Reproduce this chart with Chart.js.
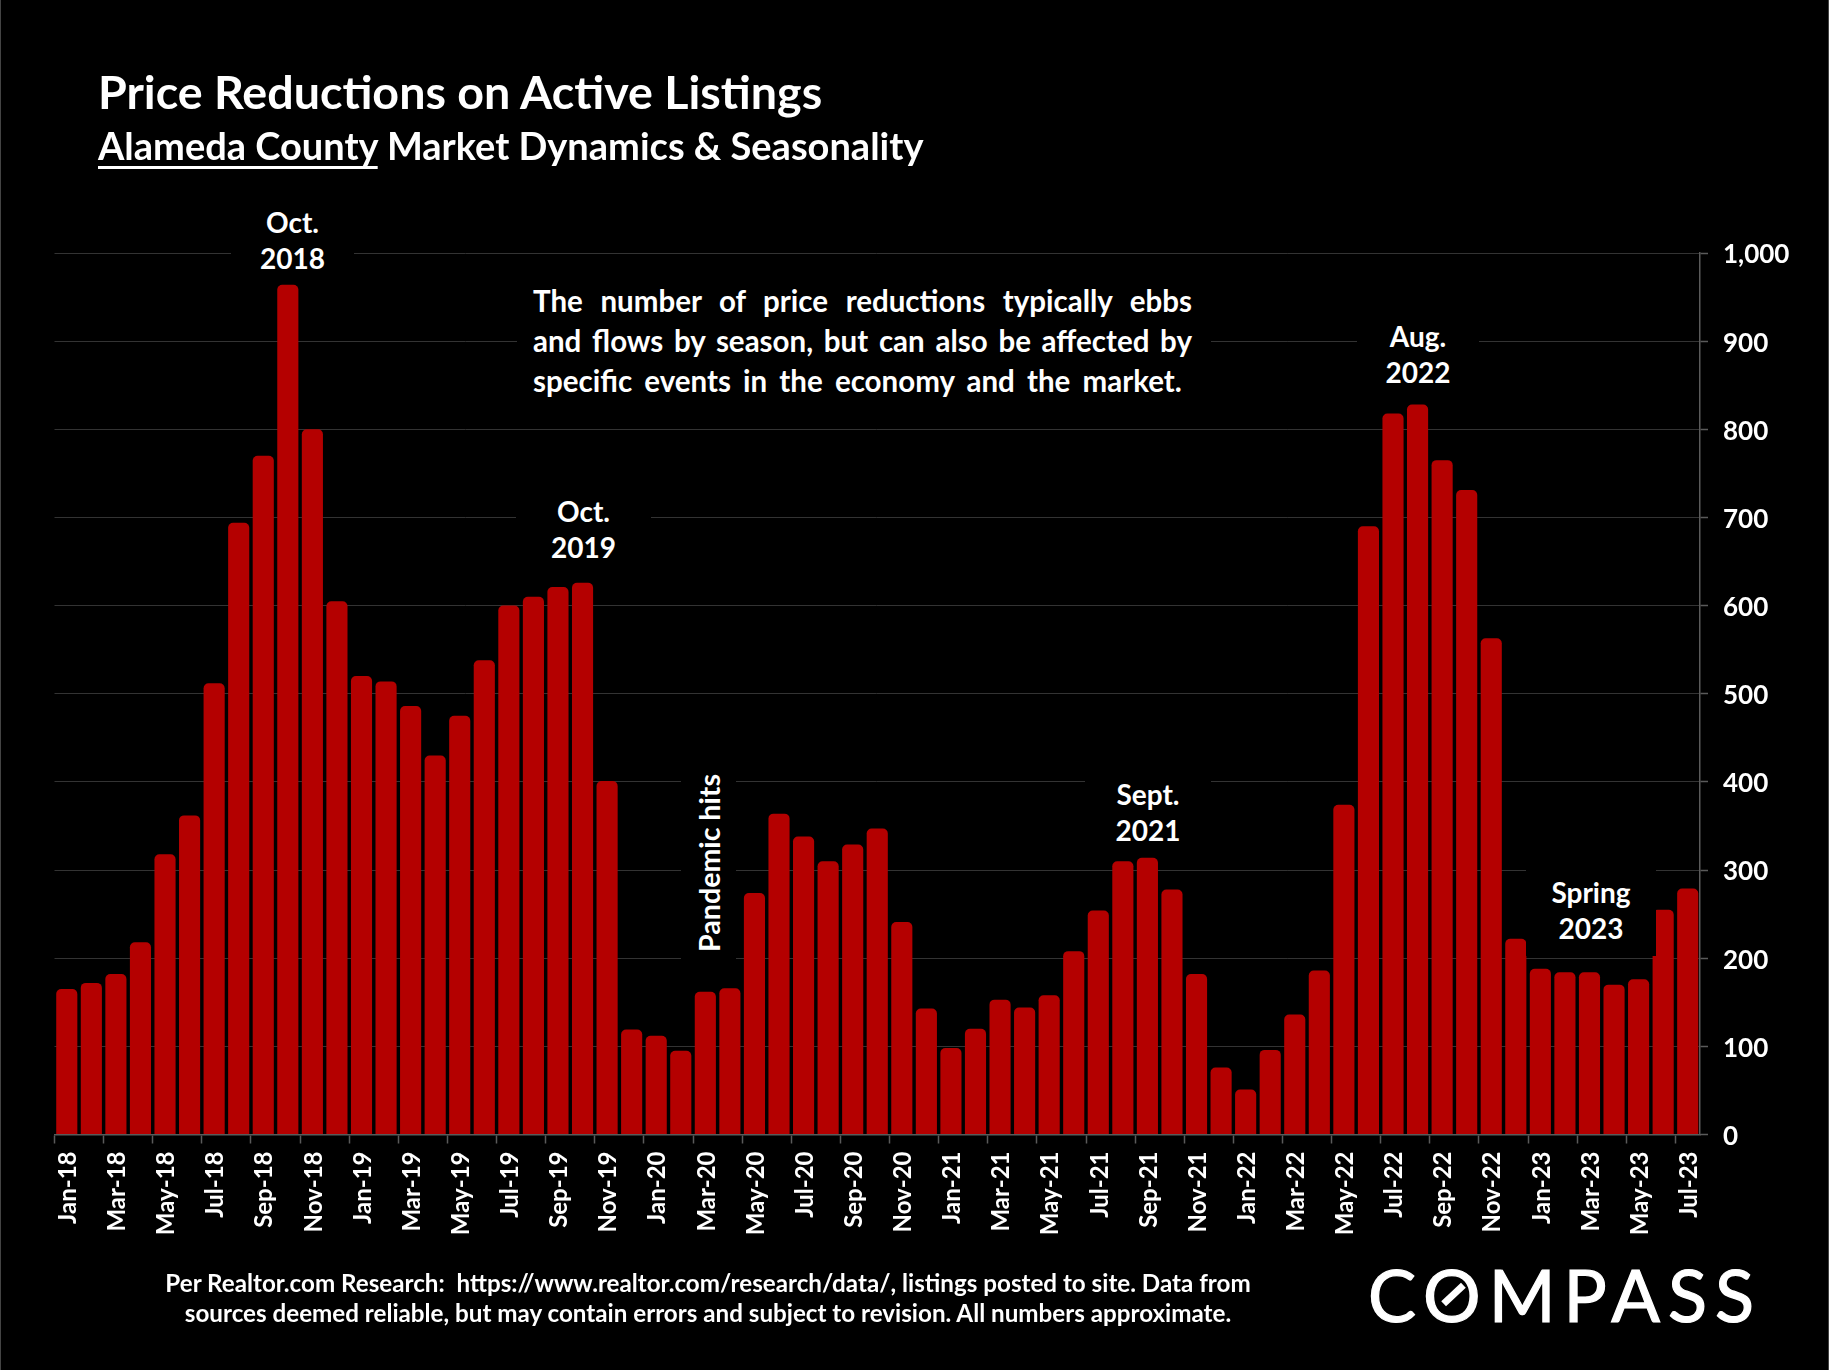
<!DOCTYPE html>
<html>
<head>
<meta charset="utf-8">
<title>Price Reductions on Active Listings</title>
<script src="https://cdn.jsdelivr.net/npm/chart.js@4/dist/chart.umd.min.js"></script>
<style>
  html, body { margin: 0; padding: 0; background: #000; }
  body { width: 1829px; height: 1370px; position: relative; overflow: hidden; font-family: Lato, sans-serif; font-weight: 700; color: #fff; }
  canvas { position: absolute; left: 0; top: 0; }
  .edge { position: absolute; top: 0; width: 1px; height: 1370px; background: #444; }
  .title { position: absolute; left: 98px; top: 63px; font-size: 46.6px; line-height: 56px; white-space: nowrap; }
  .subtitle { position: absolute; left: 98px; top: 122px; font-size: 38px; line-height: 46px; white-space: nowrap; }
  .subtitle u { text-decoration-thickness: 3px; text-underline-offset: 6px; }
  .note { position: absolute; background: #000; text-align: center; font-size: 28px; line-height: 36px; white-space: nowrap; }
  .blurb { position: absolute; left: 517px; top: 272px; width: 694px; height: 130px; background: #000; }
  .blurb div { position: absolute; left: 16px; width: 659px; font-size: 29.5px; line-height: 40px; white-space: nowrap; }
  .blurb .fill { text-align: justify; text-align-last: justify; white-space: normal; }
  .pandemic { position: absolute; left: 681px; top: 770px; width: 55px; height: 190px; background: #000; }
  .pandemic span { position: absolute; left: 28px; top: 93px; transform: translate(-50%, -50%) rotate(-90deg); font-size: 28.6px; white-space: nowrap; }
  .footer { position: absolute; left: 108px; top: 1268px; width: 1200px; text-align: center; font-size: 24.2px; line-height: 30px; white-space: nowrap; }
  .logo { position: absolute; left: 1368px; top: 1250px; font-size: 72px; line-height: 88px; font-weight: 400; letter-spacing: 8px; white-space: nowrap; -webkit-text-stroke: 1.2px #fff; }
  .slash { position: absolute; left: 1440px; top: 1291px; width: 27px; height: 7px; background: #fff; transform: rotate(-43deg); }
</style>
</head>
<body>
<canvas id="chart" width="1829" height="1370"></canvas>
<div class="edge" style="left:0;"></div>
<div class="edge" style="left:1828px;"></div>
<div class="title">Price Reductions on Active Listings</div>
<div class="subtitle"><u>Alameda County</u> Market Dynamics &amp; Seasonality</div>
<div class="note" style="left:231px;top:204px;width:123px;">Oct.<br>2018</div>
<div class="note" style="left:516px;top:493px;width:135px;">Oct.<br>2019</div>
<div class="note" style="left:1357px;top:318px;width:122px;">Aug.<br>2022</div>
<div class="note" style="left:1085px;top:776px;width:126px;">Sept.<br>2021</div>
<div class="note" style="left:1526px;top:862px;width:130px;height:82px;padding-top:12px;">Spring<br>2023</div>
<div class="blurb">
  <div class="fill" style="top:9px;">The number of price reductions typically ebbs</div>
  <div class="fill" style="top:49px;">and flows by season, but can also be affected by</div>
  <div style="top:89px;word-spacing:5px;">specific events in the economy and the market.</div>
</div>
<div class="pandemic"><span>Pandemic hits</span></div>
<div class="footer">Per Realtor.com Research:&nbsp; https://www.realtor.com/research/data/, listings posted to site. Data from<br>sources deemed reliable, but may contain errors and subject to revision. All numbers approximate.</div>
<div class="logo">COMPASS</div>
<div class="slash"></div>
<script>
  const months = [
    "Jan-18", "Feb-18", "Mar-18", "Apr-18", "May-18", "Jun-18", "Jul-18", "Aug-18", "Sep-18", "Oct-18", "Nov-18", "Dec-18",
    "Jan-19", "Feb-19", "Mar-19", "Apr-19", "May-19", "Jun-19", "Jul-19", "Aug-19", "Sep-19", "Oct-19", "Nov-19", "Dec-19",
    "Jan-20", "Feb-20", "Mar-20", "Apr-20", "May-20", "Jun-20", "Jul-20", "Aug-20", "Sep-20", "Oct-20", "Nov-20", "Dec-20",
    "Jan-21", "Feb-21", "Mar-21", "Apr-21", "May-21", "Jun-21", "Jul-21", "Aug-21", "Sep-21", "Oct-21", "Nov-21", "Dec-21",
    "Jan-22", "Feb-22", "Mar-22", "Apr-22", "May-22", "Jun-22", "Jul-22", "Aug-22", "Sep-22", "Oct-22", "Nov-22", "Dec-22",
    "Jan-23", "Feb-23", "Mar-23", "Apr-23", "May-23", "Jun-23", "Jul-23",
  ];
  const priceReductions = [
    165, 172, 182, 218, 318, 362, 512, 694, 770, 964, 800, 605,
    520, 514, 486, 430, 475, 538, 600, 610, 621, 626, 401, 119,
    112, 95, 162, 166, 274, 364, 338, 310, 329, 347, 241, 143,
    98, 120, 153, 144, 158, 208, 254, 310, 314, 278, 182, 76,
    51, 96, 136, 186, 374, 690, 818, 828, 765, 731, 563, 222,
    188, 184, 184, 170, 176, 255, 279,
  ];

  new Chart(document.getElementById("chart"), {
    type: "bar",
    data: {
      labels: months,
      datasets: [{
        data: priceReductions,
        backgroundColor: "#b40000",
        barPercentage: 0.86,
        categoryPercentage: 1,
        borderRadius: { topLeft: 5, topRight: 5 },
        borderSkipped: "bottom",
      }],
    },
    options: {
      responsive: false,
      animation: false,
      devicePixelRatio: 1,
      layout: { padding: { left: 54.5, top: 253, right: 29, bottom: 135.5 } },
      plugins: { legend: { display: false }, tooltip: { enabled: false } },
      scales: {
        x: {
          offset: true,
          afterFit: (scale) => { scale.height = 100; },
          border: { color: "#5a5a5a", width: 1.5 },
          grid: {
            offset: true,
            drawOnChartArea: false,
            tickLength: 9,
            tickWidth: 1.5,
            tickColor: (ctx) => (ctx.index % 2 === 0 ? "#5a5a5a" : "transparent"),
          },
          ticks: {
            autoSkip: false,
            minRotation: 90,
            maxRotation: 90,
            padding: 8,
            labelOffset: 1.5,
            color: "#fff",
            font: { family: "Lato", size: 24, weight: "bold" },
            callback: (value, index) => (index % 2 === 0 ? months[index] : ""),
          },
        },
        y: {
          position: "right",
          min: 0,
          max: 1000,
          afterFit: (scale) => { scale.width = 100; },
          border: { color: "#5a5a5a", width: 1.5 },
          grid: { color: "#333", lineWidth: 1, tickLength: 8, tickColor: "#5a5a5a", tickWidth: 1.5 },
          ticks: {
            stepSize: 100,
            padding: 15,
            labelOffset: 2,
            color: "#fff",
            font: { family: "Lato", size: 26, weight: "bold" },
            callback: (value) => (value >= 1000 ? "1,000" : String(value)),
          },
        },
      },
    },
  });
</script>
</body>
</html>
